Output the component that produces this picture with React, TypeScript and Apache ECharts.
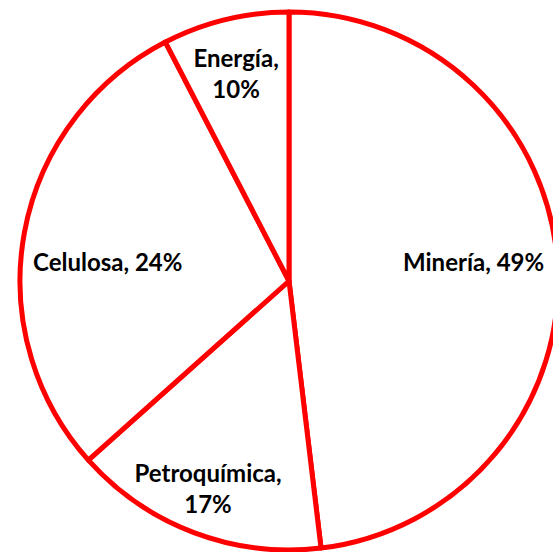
import React, { useEffect, useRef } from "react";
import * as echarts from "echarts";

const categories = ["Minería", "Petroquímica", "Celulosa", "Energía"];
const sliceValues = [48.1, 15.3, 29.0, 7.6];
// Percentages printed in the data labels
const printedPct = [49, 17, 24, 10];
// Which labels break onto two lines
const wrapLabel = [false, true, false, true];
// Label placement (layout): distance from centre as a fraction of the radius, plus a pixel nudge
const labelRadiusFrac = [0.68, 0.82, 0.67, 0.8];
const labelNudge = [
  [2, -9],
  [-3, 1],
  [-4, 13],
  [-2, 1],
];

const CX = 289;
const CY = 281;
const R = 269;

export default function App() {
  const ref = useRef<HTMLDivElement>(null);
  useEffect(() => {
    if (!ref.current) return;
    const chart = echarts.init(ref.current, undefined, { renderer: "svg" });
    const total = sliceValues.reduce((a, b) => a + b, 0);
    const mids: number[] = [];
    let acc = 0;
    sliceValues.forEach((v) => {
      mids.push(((acc + v / 2) / total) * Math.PI * 2);
      acc += v;
    });
    chart.setOption({
      animation: false,
      backgroundColor: "#ffffff",
      series: [
        {
          type: "pie",
          center: [CX, CY],
          radius: [0, R],
          startAngle: 90,
          clockwise: true,
          avoidLabelOverlap: false,
          itemStyle: { color: "#ffffff", borderColor: "#ff0000", borderWidth: 5 },
          emphasis: { disabled: true },
          labelLine: { show: false },
          label: {
            show: true,
            position: "inside",
            color: "#000000",
            fontFamily: "Lato",
            fontWeight: "bold",
            fontSize: 24,
            lineHeight: 31,
            align: "center",
            formatter: (p: any) =>
              categories[p.dataIndex] + "," + (wrapLabel[p.dataIndex] ? "\n" : " ") + printedPct[p.dataIndex] + "%",
          },
          labelLayout: (p: any) => {
            const i = p.dataIndex;
            const a = mids[i];
            const d = labelRadiusFrac[i] * R;
            return {
              x: CX + d * Math.sin(a) + labelNudge[i][0],
              y: CY - d * Math.cos(a) + labelNudge[i][1],
              align: "center",
              verticalAlign: "middle",
            };
          },
          data: categories.map((name, i) => ({ name, value: sliceValues[i] })),
        },
      ],
    });
    return () => chart.dispose();
  }, []);
  return (
    <div
      ref={ref}
      style={{ position: "fixed", left: 0, top: 0, width: 553, height: 552, background: "#fff" }}
    />
  );
}
